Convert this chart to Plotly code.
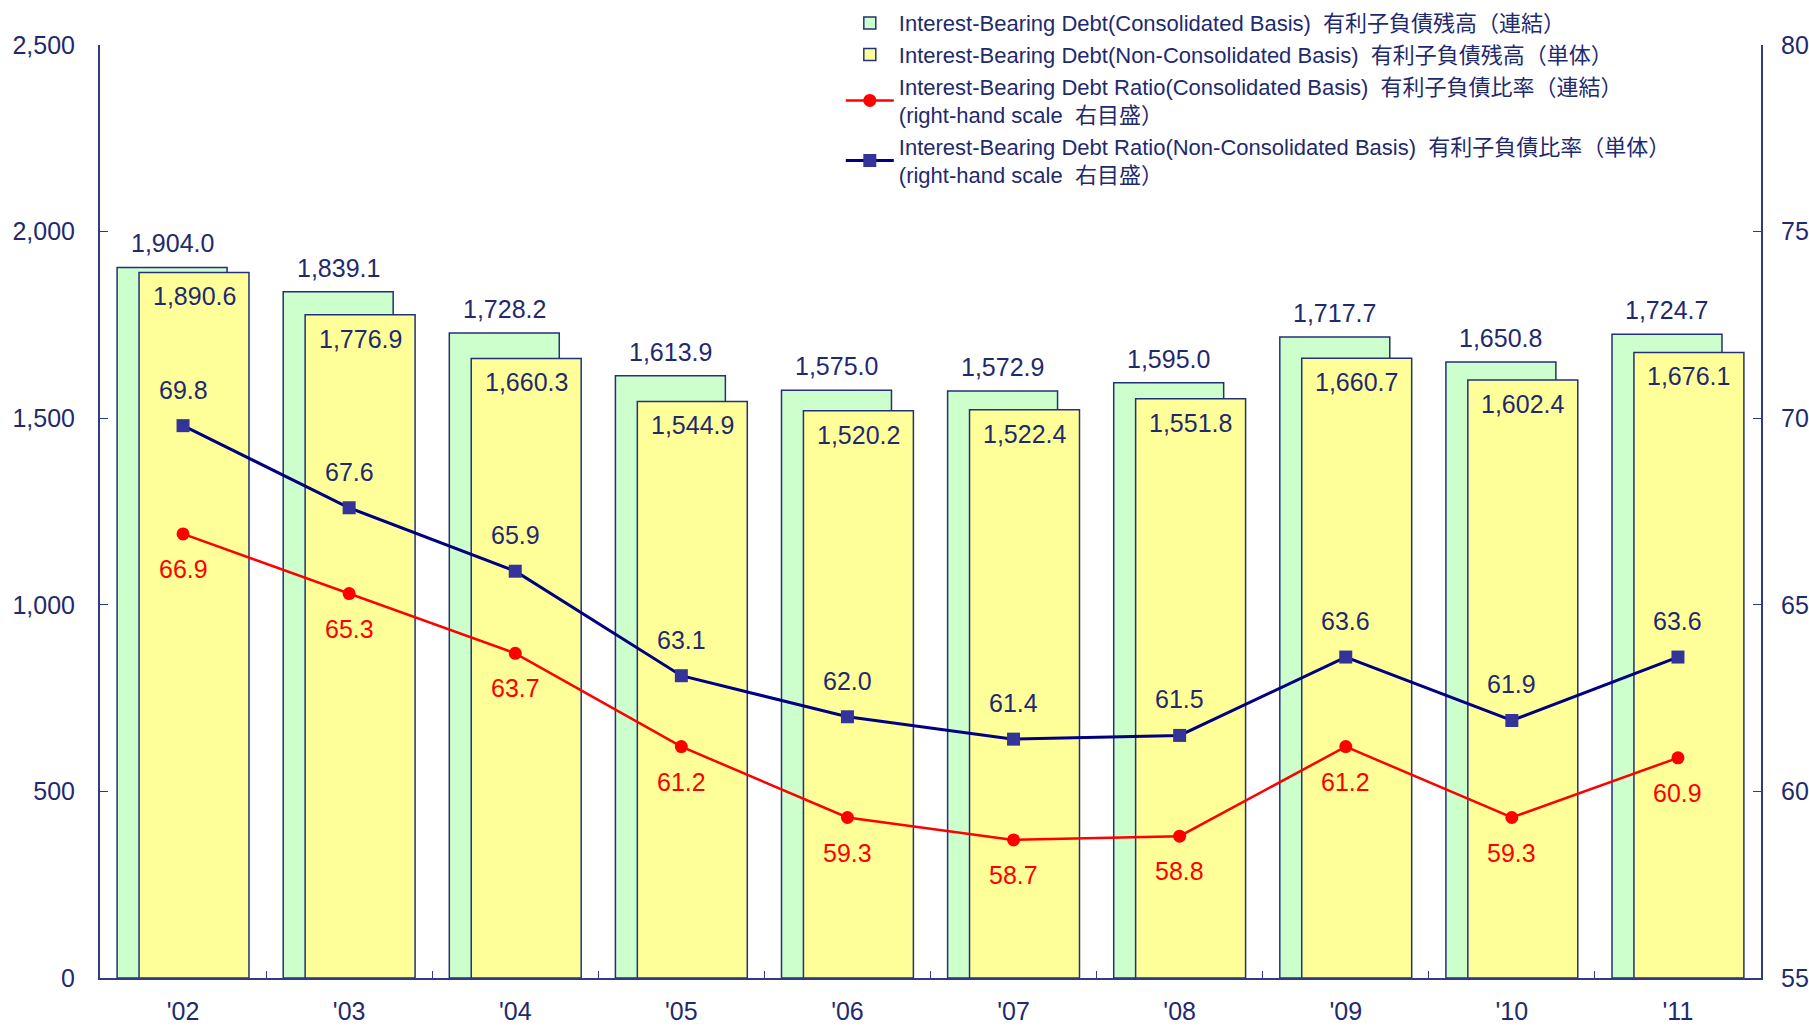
import plotly.graph_objects as go

years = ["'02", "'03", "'04", "'05", "'06", "'07", "'08", "'09", "'10", "'11"]
debt_consol = [1904.0, 1839.1, 1728.2, 1613.9, 1575.0, 1572.9, 1595.0, 1717.7, 1650.8, 1724.7]
debt_non = [1890.6, 1776.9, 1660.3, 1544.9, 1520.2, 1522.4, 1551.8, 1660.7, 1602.4, 1676.1]
ratio_consol = [66.9, 65.3, 63.7, 61.2, 59.3, 58.7, 58.8, 61.2, 59.3, 60.9]
ratio_non = [69.8, 67.6, 65.9, 63.1, 62.0, 61.4, 61.5, 63.6, 61.9, 63.6]

names = [
    "Interest-Bearing Debt(Consolidated Basis)\u00a0\u00a0有利子負債残高（連結）",
    "Interest-Bearing Debt(Non-Consolidated Basis)\u00a0\u00a0有利子負債残高（単体）",
    "Interest-Bearing Debt Ratio(Consolidated Basis)\u00a0\u00a0有利子負債比率（連結）<br>(right-hand scale\u00a0\u00a0右目盛）",
    "Interest-Bearing Debt Ratio(Non-Consolidated Basis)\u00a0\u00a0有利子負債比率（単体）<br>(right-hand scale\u00a0\u00a0右目盛）",
]

NAVY = "#1f2a6e"
AXIS = "#2f3b87"
OUTLINE = "#23307a"
FONT = "Arial, Liberation Sans, Noto Sans CJK JP, sans-serif"

fig = go.Figure()
fig.add_trace(go.Bar(
    x=years, y=debt_consol, name=names[0],
    marker=dict(color="#CCFFCC", line=dict(color=OUTLINE, width=1.5)),
    width=0.662, offset=-0.397,
))
fig.add_trace(go.Bar(
    x=years, y=debt_non, name=names[1],
    marker=dict(color="#FFFF99", line=dict(color=OUTLINE, width=1.5)),
    width=0.662, offset=-0.265,
))
fig.add_trace(go.Scatter(
    x=years, y=ratio_consol, name=names[2], yaxis="y2",
    mode="lines+markers",
    line=dict(color="#FF0000", width=2.5),
    marker=dict(symbol="circle", size=13, color="#FF0000"),
    cliponaxis=False,
))
fig.add_trace(go.Scatter(
    x=years, y=ratio_non, name=names[3], yaxis="y2",
    mode="lines+markers",
    line=dict(color="#000080", width=3),
    marker=dict(symbol="square", size=13, color="#333399"),
    cliponaxis=False,
))

annotations = []
for yr, v in zip(years, debt_consol):
    annotations.append(dict(x=yr, y=v, xref="x", yref="y", text=f"{v:,.1f}",
                            showarrow=False, xshift=-11, yshift=24,
                            font=dict(size=25, color=NAVY, family=FONT)))
for yr, v in zip(years, debt_non):
    annotations.append(dict(x=yr, y=v, xref="x", yref="y", text=f"{v:,.1f}",
                            showarrow=False, xshift=11, yshift=-24,
                            font=dict(size=25, color=NAVY, family=FONT)))
for yr, v in zip(years, ratio_consol):
    annotations.append(dict(x=yr, y=v, xref="x", yref="y2", text=f"{v:.1f}",
                            showarrow=False, yshift=-35,
                            font=dict(size=25, color="#FF0000", family=FONT)))
for yr, v in zip(years, ratio_non):
    annotations.append(dict(x=yr, y=v, xref="x", yref="y2", text=f"{v:.1f}",
                            showarrow=False, yshift=36,
                            font=dict(size=25, color=NAVY, family=FONT)))

fig.update_layout(
    width=1809, height=1029,
    margin=dict(l=100, r=48, t=45, b=51, autoexpand=False),
    paper_bgcolor="white", plot_bgcolor="white",
    barmode="overlay",
    showlegend=True,
    annotations=annotations,
    font=dict(family=FONT, color=NAVY, size=25),
    legend=dict(
        x=0.446, y=1.046, xanchor="left", yanchor="top",
        font=dict(size=22, color=NAVY, family=FONT),
        bgcolor="rgba(0,0,0,0)", tracegroupgap=0, itemwidth=48,
    ),
    xaxis=dict(
        type="category", range=[-0.5, 9.5], automargin=False,
        showline=True, linecolor=AXIS, linewidth=2,
        ticks="inside", tickson="boundaries", ticklen=7, tickcolor=AXIS,
        tickfont=dict(size=25, color=NAVY), ticklabelstandoff=10,
        showgrid=False, zeroline=False,
    ),
    yaxis=dict(
        range=[0, 2500], dtick=500, tickformat=",", automargin=False,
        showline=True, linecolor=AXIS, linewidth=2,
        ticks="inside", ticklen=8, tickcolor=AXIS,
        tickfont=dict(size=25, color=NAVY), ticklabelstandoff=18,
        showgrid=False, zeroline=False,
    ),
    yaxis2=dict(
        overlaying="y", side="right", automargin=False,
        range=[55, 80], dtick=5,
        showline=True, linecolor=AXIS, linewidth=2,
        ticks="inside", ticklen=8, tickcolor=AXIS,
        tickfont=dict(size=25, color=NAVY), ticklabelstandoff=13,
        showgrid=False, zeroline=False,
    ),
)

# remove the default page margin so the 1809x1029 figure fills the window exactly
fig.write_html(
    "out.html",
    config={"displayModeBar": False},
    post_script="document.body.style.margin='0';document.body.style.overflow='hidden';",
)
